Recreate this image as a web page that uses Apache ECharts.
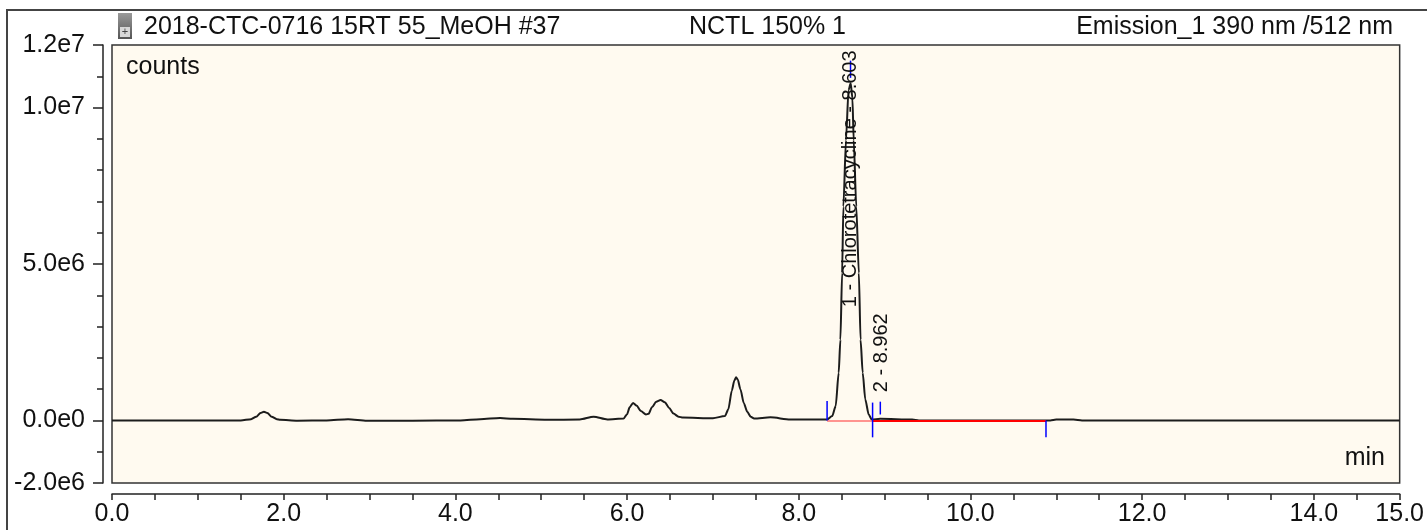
<!DOCTYPE html>
<html>
<head>
<meta charset="utf-8">
<title>2018-CTC-0716 15RT 55_MeOH #37</title>
<script src="https://cdn.jsdelivr.net/npm/echarts@6/dist/echarts.min.js"></script>
<style>
  html, body { margin: 0; padding: 0; background: #fff; }
  #chart { width: 1427px; height: 530px; }
</style>
</head>
<body>
<div id="chart"></div>
<script>
  // chromatogram trace (min / counts)
  var times = [
    0.00, 1.50, 1.62, 1.68, 1.73, 1.77, 1.81, 1.86, 1.92, 1.96, 2.16, 2.50,
    2.75, 2.97, 3.50, 4.06, 4.29, 4.52, 4.67, 5.07, 5.45, 5.61, 5.77, 5.96,
    6.00, 6.03, 6.07, 6.11, 6.16, 6.22, 6.25, 6.29, 6.34, 6.39, 6.44, 6.49,
    6.54, 6.60, 6.65, 7.00, 7.14, 7.18, 7.22, 7.25, 7.27, 7.29, 7.32, 7.36,
    7.40, 7.44, 7.48, 7.67, 7.90, 8.33, 8.39, 8.43, 8.465, 8.485, 8.505, 8.52,
    8.55, 8.58, 8.605, 8.625, 8.64, 8.67, 8.70, 8.72, 8.745, 8.775, 8.815, 8.85,
    8.95, 9.32, 9.40, 10.93, 11.00, 11.20, 11.30, 15.00
  ];
  var counts = [
    0, 0, 0.04e6, 0.12e6, 0.24e6, 0.28e6, 0.24e6, 0.12e6, 0.04e6, 0.02e6, -0.01e6, 0,
    0.04e6, -0.01e6, -0.01e6, 0, 0.04e6, 0.08e6, 0.05e6, 0.02e6, 0.03e6, 0.12e6, 0.03e6, 0.06e6,
    0.20e6, 0.42e6, 0.56e6, 0.48e6, 0.30e6, 0.19e6, 0.21e6, 0.42e6, 0.60e6, 0.65e6, 0.58e6, 0.40e6,
    0.22e6, 0.12e6, 0.09e6, 0.07e6, 0.14e6, 0.36e6, 0.95e6, 1.28e6, 1.38e6, 1.30e6, 1.00e6, 0.55e6,
    0.28e6, 0.12e6, 0.06e6, 0.10e6, 0.03e6, 0.03e6, 0.14e6, 0.46e6, 1.52e6, 2.58e6, 4.71e6, 6.84e6,
    8.96e6, 10.56e6, 10.78e6, 10.30e6, 8.96e6, 6.84e6, 4.71e6, 2.58e6, 1.52e6, 0.67e6, 0.19e6, 0.03e6,
    0.05e6, 0.03e6, 0, 0, 0.03e6, 0.03e6, 0, 0
  ];

  // integration baselines (start, end) in min
  var baseStart = [8.33, 8.86];
  var baseEnd = [8.86, 10.88];

  // blue peak delimiters: time, low, high (counts)
  var markerTimes = [8.603, 8.33, 8.86, 8.95, 10.88];
  var markerLow = [10.95e6, 0, -0.54e6, 0.19e6, -0.54e6];
  var markerHigh = [11.5e6, 0.62e6, 0.57e6, 0.60e6, 0];

  // peak labels: time, counts where the text starts
  var peakNames = ['1 - Chlorotetracycline - 8.603', '2 - 8.962'];
  var peakTimes = [8.603, 8.962];
  var peakLabelAt = [3.62e6, 0.90e6];

  // axis labels
  var yLabelValues = [-2e6, 0, 5e6, 1e7, 1.2e7];
  var xLabelValues = [0, 2, 4, 6, 8, 10, 12, 14, 15];

  var FONT = '"Liberation Sans", Arial, Helvetica, sans-serif';

  var chart = echarts.init(document.getElementById('chart'));

  var option = {
    animation: false,
    backgroundColor: '#ffffff',
    grid: {
      left: 112,
      right: 27,
      top: 45,
      bottom: 47,
      show: true,
      backgroundColor: '#fffaf0',
      borderColor: '#333333',
      borderWidth: 1.5
    },
    xAxis: {
      type: 'value',
      min: 0,
      max: 15,
      interval: 0.5,
      offset: 11,
      axisLine: { show: true, onZero: false, lineStyle: { color: '#222', width: 1.5 } },
      axisTick: { show: true, length: 6, lineStyle: { color: '#222', width: 1.5 } },
      axisLabel: {
        margin: 8,
        color: '#111',
        fontSize: 25,
        fontFamily: FONT,
        showMaxLabel: true,
        showMinLabel: true,
        formatter: function (v) {
          return xLabelValues.indexOf(v) > -1 ? v.toFixed(1) : '';
        }
      },
      splitLine: { show: false }
    },
    yAxis: [
      {
        // minor ticks, every 1e6
        type: 'value',
        min: -2e6,
        max: 1.2e7,
        interval: 1e6,
        position: 'left',
        offset: 9,
        axisLine: { show: true, onZero: false, lineStyle: { color: '#222', width: 1.5 } },
        axisTick: { show: true, length: 6, lineStyle: { color: '#222', width: 1.5 } },
        axisLabel: { show: false },
        splitLine: { show: false }
      },
      {
        // labelled ticks
        type: 'value',
        min: -2e6,
        max: 1.2e7,
        position: 'left',
        offset: 9,
        axisLine: { show: false, onZero: false },
        axisTick: {
          show: true,
          length: 10,
          customValues: yLabelValues,
          lineStyle: { color: '#222', width: 1.5 }
        },
        axisLabel: {
          margin: 18,
          color: '#111',
          fontSize: 25,
          fontFamily: FONT,
          customValues: yLabelValues,
          formatter: function (v) {
            return v.toExponential(1).replace('+', '');
          }
        },
        splitLine: { show: false }
      }
    ],
    graphic: [
      // outer frame
      { type: 'line', shape: { x1: 6, y1: 10, x2: 1427, y2: 10 }, style: { stroke: '#444', lineWidth: 2 } },
      { type: 'line', shape: { x1: 7, y1: 10, x2: 7, y2: 530 }, style: { stroke: '#444', lineWidth: 2 } },
      // little icon before the title
      {
        type: 'rect',
        shape: { x: 118, y: 13, width: 14, height: 26 },
        style: {
          fill: new echarts.graphic.LinearGradient(0, 0, 0, 1, [
            { offset: 0, color: '#9a9a9a' },
            { offset: 1, color: '#555' }
          ])
        }
      },
      { type: 'rect', shape: { x: 120, y: 27, width: 10, height: 10 }, style: { fill: '#d8d8d8' } },
      {
        type: 'text', x: 125, y: 32,
        style: { text: '+', fill: '#444', fontSize: 11, fontFamily: FONT, align: 'center', verticalAlign: 'middle' }
      },
      // header
      {
        type: 'text', x: 144, y: 27,
        style: { text: '2018-CTC-0716 15RT 55_MeOH #37', fill: '#111', fontSize: 25, fontFamily: FONT, align: 'left', verticalAlign: 'middle' }
      },
      {
        type: 'text', x: 689, y: 27,
        style: { text: 'NCTL 150% 1', fill: '#111', fontSize: 25, fontFamily: FONT, align: 'left', verticalAlign: 'middle' }
      },
      {
        type: 'text', x: 1393, y: 27,
        style: { text: 'Emission_1 390 nm /512 nm', fill: '#111', fontSize: 25, fontFamily: FONT, align: 'right', verticalAlign: 'middle' }
      },
      // axis names inside the plot
      {
        type: 'text', x: 126, y: 67, z: 10,
        style: { text: 'counts', fill: '#111', fontSize: 25, fontFamily: FONT, align: 'left', verticalAlign: 'middle' }
      },
      {
        type: 'text', x: 1385, y: 458, z: 10,
        style: { text: 'min', fill: '#111', fontSize: 25, fontFamily: FONT, align: 'right', verticalAlign: 'middle' }
      }
    ],
    series: [
      {
        type: 'line',
        xAxisIndex: 0,
        yAxisIndex: 0,
        z: 2,
        showSymbol: false,
        smooth: 0.25,
        smoothMonotone: 'x',
        lineStyle: { color: '#1c1c1c', width: 2 },
        data: times.map(function (t, i) { return [t, counts[i]]; })
      },
      {
        // baseline of peak 1 (pale) and peak 2 (red), drawn over the trace
        type: 'custom',
        xAxisIndex: 0,
        yAxisIndex: 0,
        z: 3,
        silent: true,
        data: baseStart.map(function (t, i) { return [t, baseEnd[i], i]; }),
        renderItem: function (params, api) {
          var a = api.coord([api.value(0), 0]);
          var b = api.coord([api.value(1), 0]);
          return {
            type: 'line',
            shape: { x1: a[0], y1: a[1] + 0.5, x2: b[0], y2: b[1] + 0.5 },
            style: {
              stroke: api.value(2) === 0 ? 'rgba(255,80,80,0.6)' : '#ff0000',
              lineWidth: 2
            }
          };
        }
      },
      {
        // blue delimiters
        type: 'custom',
        xAxisIndex: 0,
        yAxisIndex: 0,
        z: 4,
        silent: true,
        data: markerTimes.map(function (t, i) { return [t, markerLow[i], markerHigh[i]]; }),
        renderItem: function (params, api) {
          var lo = api.coord([api.value(0), api.value(1)]);
          var hi = api.coord([api.value(0), api.value(2)]);
          return {
            type: 'line',
            shape: { x1: lo[0], y1: lo[1], x2: hi[0], y2: hi[1] },
            style: { stroke: '#0000ff', lineWidth: 1.5 }
          };
        }
      },
      {
        // rotated peak labels
        type: 'custom',
        xAxisIndex: 0,
        yAxisIndex: 0,
        z: 5,
        silent: true,
        data: peakTimes.map(function (t, i) { return [t, peakLabelAt[i]]; }),
        renderItem: function (params, api) {
          var p = api.coord([api.value(0), api.value(1)]);
          return {
            type: 'text',
            x: p[0],
            y: p[1],
            rotation: Math.PI / 2,
            style: {
              text: peakNames[params.dataIndex],
              fill: '#111',
              fontSize: 20,
              fontFamily: FONT,
              align: 'left',
              verticalAlign: 'middle'
            }
          };
        }
      }
    ]
  };

  chart.setOption(option);
</script>
</body>
</html>
